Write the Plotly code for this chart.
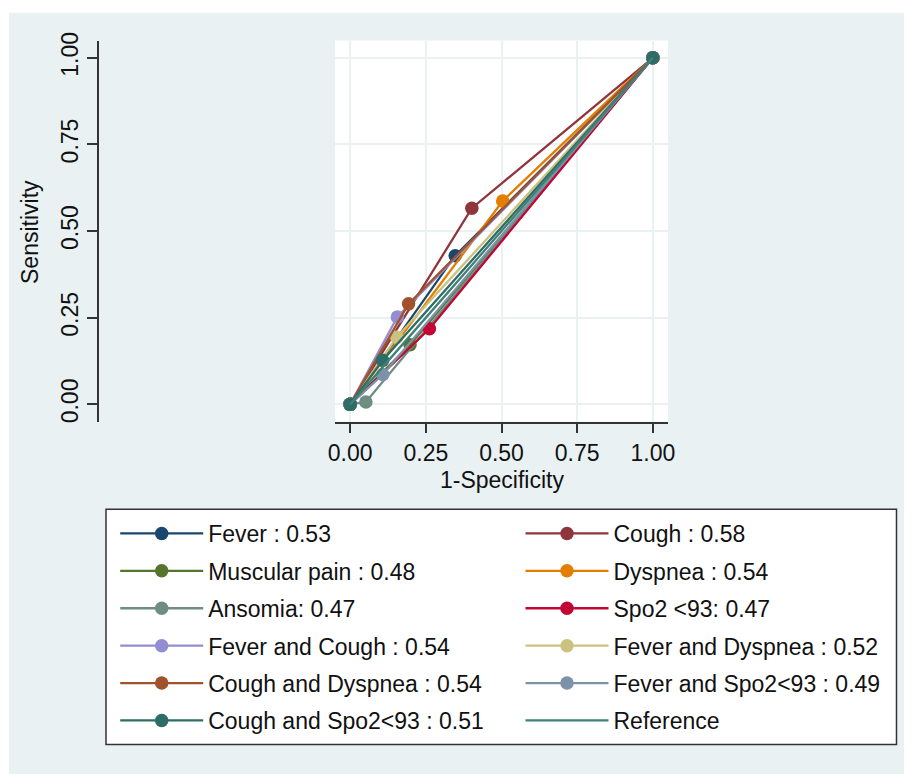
import plotly.graph_objects as go

# The page adds an 8px body margin, so the figure is 8px smaller than the window
OFF = 8
W, H = 912 - OFF, 774 - OFF

names = ["Fever : 0.53", "Cough : 0.58", "Muscular pain : 0.48", "Dyspnea : 0.54",
         "Ansomia: 0.47", "Spo2 <93: 0.47", "Fever and Cough : 0.54",
         "Fever and Dyspnea : 0.52", "Cough and Dyspnea : 0.54",
         "Fever and Spo2<93 : 0.49", "Cough and Spo2<93 : 0.51"]
fpr = [0.347, 0.402, 0.198, 0.504, 0.052, 0.262, 0.156, 0.154, 0.193, 0.108, 0.107]
sens = [0.429, 0.566, 0.172, 0.587, 0.007, 0.218, 0.252, 0.194, 0.290, 0.086, 0.127]
colors = ["#1a476f", "#90353b", "#55752f", "#e37e00", "#6e8e84", "#c10534",
          "#938dd2", "#cac27e", "#a0522d", "#7b92a8", "#2d6d66"]
ref_name = "Reference"
ref_color = "#3f8077"
ticks = [0, 0.25, 0.5, 0.75, 1.0]
tick_text = ["0.00", "0.25", "0.50", "0.75", "1.00"]

FONT = "Liberation Sans, Arial, sans-serif"
BG = "#eaf1f3"

fig = go.Figure()
for i, (n, fx, sy, c) in enumerate(zip(names, fpr, sens, colors)):
    fig.add_trace(go.Scatter(
        x=[0, fx, 1], y=[0, sy, 1], mode="lines+markers", name=n,
        line=dict(color=c, width=2.3), marker=dict(color=c, size=13.5),
        legend="legend" if i % 2 == 0 else "legend2", legendgroup=n))
fig.add_trace(go.Scatter(x=[0, 1], y=[0, 1], mode="lines", name=ref_name,
                         line=dict(color=ref_color, width=2.3),
                         legend="legend2", legendgroup=ref_name))


def px(x):  # screen x -> paper fraction
    return (x - OFF) / W


def py(y):  # screen y -> paper fraction
    return 1 - (y - OFF) / H


legend_common = dict(font=dict(family=FONT, size=23, color="#111"),
                     bgcolor="rgba(0,0,0,0)", borderwidth=0,
                     traceorder="grouped", tracegroupgap=4.5,
                     itemwidth=83, itemsizing="trace",
                     xanchor="left", yanchor="top")

fig.update_layout(
    width=W, height=H,
    margin=dict(l=0, r=0, t=0, b=0, autoexpand=False),
    paper_bgcolor=BG, plot_bgcolor="white",
    font=dict(family=FONT, size=23, color="#111"),
    xaxis=dict(domain=[px(335), px(668)], range=[-0.05, 1.05],
               tickvals=ticks, ticktext=tick_text, showgrid=True,
               gridcolor=BG, gridwidth=2, zeroline=False,
               showline=True, linecolor="#333", linewidth=1.5,
               ticks="outside", ticklen=10, tickcolor="#333", tickwidth=1.5,
               tickfont=dict(family=FONT, size=23, color="#111")),
    yaxis=dict(domain=[py(421.7), py(40.5)], range=[-0.05, 1.05],
               anchor="free", position=px(97.7),
               tickvals=ticks, ticktext=tick_text, showgrid=True,
               gridcolor=BG, gridwidth=2, zeroline=False,
               showline=True, linecolor="#333", linewidth=1.5,
               ticks="outside", ticklen=10, tickcolor="#333", tickwidth=1.5,
               tickangle=-90, ticklabelstandoff=0,
               tickfont=dict(family=FONT, size=23, color="#111")),
    legend=dict(x=px(115.2), y=py(512), **legend_common),
    legend2=dict(x=px(520.5), y=py(512), **legend_common),
    showlegend=True,
    shapes=[
        dict(type="rect", xref="paper", yref="paper", x0=0, x1=1, y0=py(12.7), y1=1,
             fillcolor="white", line=dict(width=0), layer="below"),
        dict(type="rect", xref="paper", yref="paper", x0=0, x1=px(9), y0=0, y1=1,
             fillcolor="white", line=dict(width=0), layer="below"),
        dict(type="rect", xref="paper", yref="paper", x0=px(106), x1=px(896.5),
             y0=py(744.5), y1=py(509.3), fillcolor="white",
             line=dict(color="#333", width=1.5), layer="below"),
    ],
    annotations=[
        dict(text="Sensitivity", xref="paper", yref="paper", x=px(30), y=py(232),
             textangle=-90, showarrow=False, xanchor="center", yanchor="middle",
             font=dict(family=FONT, size=23, color="#111")),
        dict(text="1-Specificity", xref="paper", yref="paper", x=px(501.5), y=py(480),
             showarrow=False, xanchor="center", yanchor="middle",
             font=dict(family=FONT, size=23, color="#111")),
    ],
)

fig.write_html("out.html")
